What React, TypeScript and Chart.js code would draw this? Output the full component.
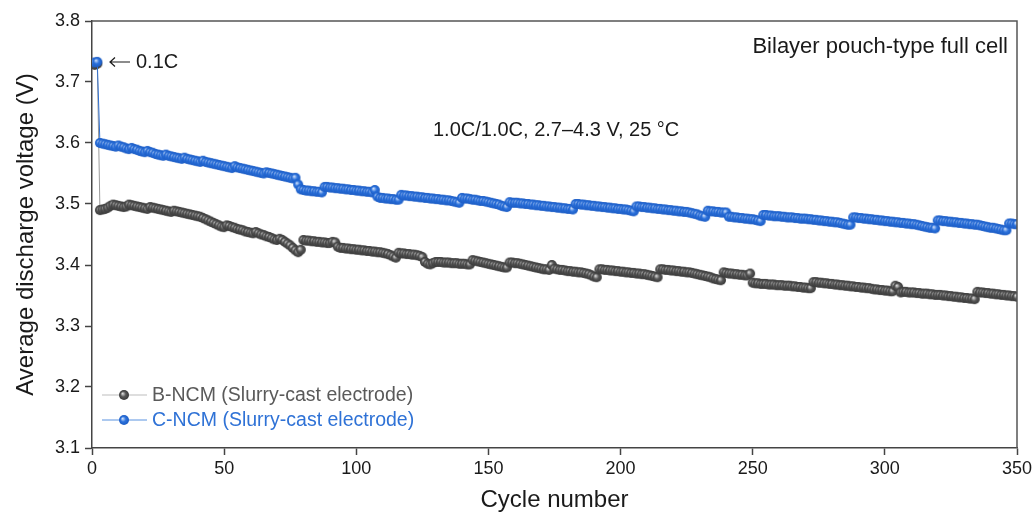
import React, { useEffect, useRef } from "react";
import { Chart, registerables } from "chart.js";

Chart.register(...registerables);

// Average discharge voltage (V) per cycle; cycles 1–2 at 0.1C, then 1.0C/1.0C
const bNcm: number[] = [
  3.728, 3.730, 3.490, 3.491, 3.492, 3.494, 3.497, 3.499, 3.498, 3.497,
  3.496, 3.495, 3.496, 3.499, 3.498, 3.497, 3.496, 3.495, 3.494, 3.493,
  3.492, 3.495, 3.494, 3.493, 3.492, 3.491, 3.490, 3.489, 3.488, 3.487,
  3.489, 3.488, 3.487, 3.486, 3.485, 3.484, 3.483, 3.482, 3.481, 3.480,
  3.479, 3.477, 3.475, 3.473, 3.471, 3.469, 3.467, 3.465, 3.463, 3.462,
  3.465, 3.464, 3.462, 3.461, 3.459, 3.458, 3.457, 3.455, 3.454, 3.453,
  3.452, 3.454, 3.452, 3.450, 3.449, 3.447, 3.446, 3.444, 3.442, 3.441,
  3.443, 3.441, 3.438, 3.435, 3.432, 3.428, 3.424, 3.421, 3.425, 3.441,
  3.440, 3.440, 3.439, 3.439, 3.438, 3.438, 3.437, 3.437, 3.436, 3.436,
  3.438, 3.437, 3.430, 3.428, 3.428, 3.427, 3.427, 3.426, 3.426, 3.425,
  3.425, 3.424, 3.424, 3.423, 3.423, 3.422, 3.422, 3.421, 3.421, 3.420,
  3.419, 3.418, 3.416, 3.414, 3.412, 3.420, 3.419, 3.419, 3.418, 3.418,
  3.417, 3.417, 3.416, 3.415, 3.413, 3.405, 3.402, 3.401, 3.403, 3.405,
  3.405, 3.405, 3.404, 3.404, 3.404, 3.403, 3.403, 3.403, 3.402, 3.402,
  3.402, 3.401, 3.401, 3.408, 3.407, 3.406, 3.405, 3.404, 3.403, 3.402,
  3.401, 3.400, 3.399, 3.398, 3.397, 3.396, 3.396, 3.404, 3.404, 3.403,
  3.403, 3.402, 3.401, 3.400, 3.399, 3.398, 3.397, 3.396, 3.395, 3.394,
  3.393, 3.393, 3.392, 3.400, 3.394, 3.393, 3.392, 3.392, 3.391, 3.390,
  3.390, 3.389, 3.389, 3.388, 3.388, 3.387, 3.386, 3.385, 3.383, 3.381,
  3.380, 3.393, 3.393, 3.392, 3.392, 3.391, 3.391, 3.390, 3.390, 3.389,
  3.389, 3.388, 3.388, 3.387, 3.387, 3.386, 3.386, 3.385, 3.385, 3.384,
  3.383, 3.382, 3.381, 3.380, 3.393, 3.393, 3.392, 3.392, 3.391, 3.391,
  3.390, 3.390, 3.389, 3.389, 3.388, 3.388, 3.387, 3.386, 3.385, 3.384,
  3.383, 3.382, 3.381, 3.380, 3.378, 3.377, 3.376, 3.375, 3.388, 3.387,
  3.386, 3.386, 3.385, 3.385, 3.384, 3.384, 3.383, 3.383, 3.386, 3.371,
  3.370, 3.370, 3.369, 3.369, 3.369, 3.368, 3.368, 3.368, 3.367, 3.367,
  3.367, 3.366, 3.366, 3.366, 3.365, 3.365, 3.364, 3.364, 3.363, 3.363,
  3.362, 3.362, 3.372, 3.372, 3.371, 3.371, 3.370, 3.370, 3.369, 3.369,
  3.368, 3.368, 3.367, 3.367, 3.366, 3.366, 3.365, 3.365, 3.364, 3.364,
  3.363, 3.363, 3.362, 3.362, 3.361, 3.360, 3.360, 3.359, 3.359, 3.358,
  3.358, 3.357, 3.357, 3.366, 3.364, 3.355, 3.356, 3.356, 3.355, 3.355,
  3.355, 3.354, 3.354, 3.353, 3.353, 3.353, 3.352, 3.352, 3.351, 3.351,
  3.351, 3.350, 3.350, 3.349, 3.349, 3.348, 3.348, 3.347, 3.347, 3.346,
  3.346, 3.345, 3.345, 3.344, 3.356, 3.355, 3.355, 3.354, 3.354, 3.353,
  3.353, 3.352, 3.352, 3.351, 3.351, 3.350, 3.350, 3.349, 3.349, 3.348,
];

const cNcm: number[] = [
  3.732, 3.733, 3.600, 3.599, 3.598, 3.597, 3.596, 3.595, 3.594, 3.596,
  3.594, 3.593, 3.591, 3.590, 3.592, 3.590, 3.589, 3.587, 3.586, 3.585,
  3.587, 3.585, 3.584, 3.582, 3.581, 3.580, 3.579, 3.581, 3.579, 3.578,
  3.577, 3.576, 3.575, 3.574, 3.576, 3.574, 3.573, 3.572, 3.571, 3.570,
  3.569, 3.571, 3.569, 3.568, 3.567, 3.566, 3.565, 3.564, 3.563, 3.562,
  3.561, 3.560, 3.559, 3.562, 3.560, 3.559, 3.558, 3.557, 3.556, 3.555,
  3.554, 3.553, 3.552, 3.551, 3.550, 3.552, 3.551, 3.550, 3.549, 3.548,
  3.547, 3.546, 3.545, 3.544, 3.543, 3.542, 3.543, 3.532, 3.524, 3.523,
  3.522, 3.522, 3.521, 3.521, 3.520, 3.520, 3.519, 3.528, 3.528, 3.527,
  3.527, 3.526, 3.526, 3.525, 3.525, 3.524, 3.524, 3.523, 3.523, 3.522,
  3.522, 3.521, 3.521, 3.520, 3.520, 3.519, 3.523, 3.512, 3.510, 3.510,
  3.509, 3.509, 3.508, 3.508, 3.507, 3.507, 3.515, 3.514, 3.514, 3.513,
  3.513, 3.512, 3.512, 3.511, 3.511, 3.510, 3.510, 3.509, 3.509, 3.508,
  3.508, 3.507, 3.507, 3.506, 3.506, 3.505, 3.504, 3.503, 3.502, 3.510,
  3.509, 3.509, 3.508, 3.507, 3.507, 3.506, 3.505, 3.505, 3.504, 3.503,
  3.502, 3.501, 3.500, 3.499, 3.497, 3.496, 3.495, 3.503, 3.502, 3.502,
  3.502, 3.501, 3.501, 3.500, 3.500, 3.499, 3.499, 3.498, 3.498, 3.497,
  3.497, 3.496, 3.496, 3.495, 3.495, 3.494, 3.494, 3.493, 3.493, 3.492,
  3.492, 3.491, 3.500, 3.500, 3.499, 3.499, 3.498, 3.498, 3.497, 3.497,
  3.496, 3.496, 3.495, 3.495, 3.494, 3.494, 3.493, 3.493, 3.492, 3.492,
  3.491, 3.491, 3.490, 3.489, 3.488, 3.496, 3.496, 3.495, 3.495, 3.494,
  3.494, 3.493, 3.493, 3.492, 3.492, 3.491, 3.491, 3.490, 3.490, 3.489,
  3.489, 3.488, 3.488, 3.487, 3.487, 3.486, 3.485, 3.484, 3.483, 3.481,
  3.480, 3.479, 3.489, 3.488, 3.488, 3.487, 3.487, 3.486, 3.486, 3.486,
  3.479, 3.479, 3.478, 3.478, 3.477, 3.477, 3.476, 3.476, 3.475, 3.475,
  3.474, 3.473, 3.472, 3.482, 3.482, 3.481, 3.481, 3.480, 3.480, 3.480,
  3.479, 3.479, 3.478, 3.478, 3.478, 3.477, 3.477, 3.476, 3.476, 3.476,
  3.475, 3.475, 3.474, 3.474, 3.473, 3.473, 3.472, 3.472, 3.471, 3.471,
  3.470, 3.470, 3.469, 3.468, 3.467, 3.466, 3.466, 3.478, 3.478, 3.477,
  3.477, 3.476, 3.476, 3.475, 3.475, 3.474, 3.474, 3.473, 3.473, 3.472,
  3.472, 3.471, 3.471, 3.470, 3.470, 3.469, 3.469, 3.468, 3.468, 3.467,
  3.467, 3.466, 3.465, 3.464, 3.463, 3.462, 3.461, 3.461, 3.460, 3.473,
  3.473, 3.472, 3.472, 3.471, 3.471, 3.470, 3.470, 3.469, 3.469, 3.468,
  3.468, 3.467, 3.467, 3.466, 3.466, 3.465, 3.464, 3.463, 3.462, 3.461,
  3.461, 3.460, 3.459, 3.458, 3.457, 3.457, 3.468, 3.468, 3.467, 3.467,
];

// cycle index for each value (1..N)
const cycles: number[] = bNcm.map((_, i) => i + 1);

const seriesNames: string[] = ["B-NCM (Slurry-cast electrode)", "C-NCM (Slurry-cast electrode)"];
const yTicks: number[] = [3.1, 3.2, 3.3, 3.4, 3.5, 3.6, 3.7, 3.8];
const xTicks: number[] = [0, 50, 100, 150, 200, 250, 300, 350];

const FONT = '"Liberation Sans", Arial, "Helvetica Neue", sans-serif';

// shaded sphere used as the point marker
function makeBall(r: number, light: string, mid: string, dark: string): HTMLCanvasElement {
  const size = Math.ceil(r * 2 + 2);
  const c = document.createElement("canvas");
  c.width = size;
  c.height = size;
  const g = c.getContext("2d")!;
  const cx = size / 2;
  const grad = g.createRadialGradient(cx - r * 0.3, cx - r * 0.3, r * 0.05, cx, cx, r);
  grad.addColorStop(0, light);
  grad.addColorStop(0.5, mid);
  grad.addColorStop(1, dark);
  g.fillStyle = grad;
  g.beginPath();
  g.arc(cx, cx, r, 0, Math.PI * 2);
  g.fill();
  return c;
}

export default function App() {
  const ref = useRef<HTMLCanvasElement | null>(null);

  useEffect(() => {
    document.body.style.margin = "0";
    const canvas = ref.current;
    if (!canvas) return;

    const grayBall = makeBall(5, "#dcdcdc", "#575757", "#383838");
    const blueBall = makeBall(5, "#cfe0fa", "#2c72dc", "#1c5cc4");

    const decor = {
      id: "decor",
      afterDraw(chart: any) {
        const { ctx, chartArea } = chart;
        const { left, right, top, bottom } = chartArea;
        ctx.save();
        // frame on top and right
        ctx.strokeStyle = "#555";
        ctx.lineWidth = 1.5;
        ctx.beginPath();
        ctx.moveTo(left, top);
        ctx.lineTo(right, top);
        ctx.lineTo(right, bottom);
        ctx.stroke();

        // arrow pointing at the 0.1C cycles
        ctx.strokeStyle = "#1a1a1a";
        ctx.lineWidth = 1.2;
        ctx.beginPath();
        ctx.moveTo(110, 62);
        ctx.lineTo(130, 62);
        ctx.moveTo(115, 57.5);
        ctx.lineTo(110, 62);
        ctx.lineTo(115, 66.5);
        ctx.stroke();

        ctx.fillStyle = "#1a1a1a";
        ctx.textBaseline = "middle";
        ctx.textAlign = "left";
        ctx.font = `20px ${FONT}`;
        ctx.fillText("0.1C", 136, 62);
        ctx.fillText("1.0C/1.0C, 2.7\u20134.3 V, 25 \u00B0C", 433, 130);
        ctx.textAlign = "right";
        ctx.font = `22px ${FONT}`;
        ctx.fillText("Bilayer pouch-type full cell", 1008, 47);

        // legend
        const rows = [
          { name: seriesNames[0], line: "#bdbdbd", text: "#5a5a5a", ball: grayBall, y: 395 },
          { name: seriesNames[1], line: "#5b93e0", text: "#2f72d6", ball: blueBall, y: 420 },
        ];
        ctx.textAlign = "left";
        ctx.font = `19.5px ${FONT}`;
        for (const r of rows) {
          ctx.strokeStyle = r.line;
          ctx.lineWidth = 1;
          ctx.beginPath();
          ctx.moveTo(102, r.y);
          ctx.lineTo(147, r.y);
          ctx.stroke();
          ctx.drawImage(r.ball, 124 - r.ball.width / 2, r.y - r.ball.height / 2);
          ctx.fillStyle = r.text;
          ctx.fillText(r.name, 152, r.y + 1);
        }

        // axis titles
        ctx.fillStyle = "#1a1a1a";
        ctx.font = `24px ${FONT}`;
        ctx.textAlign = "center";
        ctx.fillText("Cycle number", (left + right) / 2, 500);
        ctx.translate(26, (top + bottom) / 2);
        ctx.rotate(-Math.PI / 2);
        ctx.fillText("Average discharge voltage (V)", 0, 0);
        ctx.restore();
      },
    };

    const chart = new Chart(canvas, {
      type: "line",
      data: {
        datasets: [
          {
            label: seriesNames[0],
            data: cycles.map((c, i) => ({ x: c, y: bNcm[i] })),
            borderColor: "#9a9a9a",
            borderWidth: 1,
            pointStyle: grayBall as any,
            pointRadius: 5,
            order: 1,
          },
          {
            label: seriesNames[1],
            data: cycles.map((c, i) => ({ x: c, y: cNcm[i] })),
            borderColor: "#2f6fd0",
            borderWidth: 1,
            pointStyle: blueBall as any,
            pointRadius: 5,
            order: 0,
          },
        ],
      },
      options: {
        responsive: false,
        animation: false,
        devicePixelRatio: 1,
        layout: { padding: { top: 21, right: 19, left: 0, bottom: 0 } },
        plugins: { legend: { display: false }, tooltip: { enabled: false } },
        scales: {
          x: {
            type: "linear",
            min: 0,
            max: 350,
            afterFit: (s: any) => {
              s.height = 72;
            },
            afterBuildTicks: (s: any) => {
              s.ticks = xTicks.map((v) => ({ value: v }));
            },
            grid: { drawOnChartArea: false, drawTicks: true, tickLength: 7, tickColor: "#444", tickWidth: 1.5 },
            border: { color: "#444", width: 1.5 },
            ticks: { color: "#1a1a1a", font: { family: FONT, size: 18 }, padding: 3, maxRotation: 0 },
          },
          y: {
            type: "linear",
            min: 3.1,
            max: 3.8,
            afterFit: (s: any) => {
              s.width = 92;
            },
            afterBuildTicks: (s: any) => {
              s.ticks = yTicks.map((v) => ({ value: v }));
            },
            grid: { drawOnChartArea: false, drawTicks: true, tickLength: 7, tickColor: "#444", tickWidth: 1.5 },
            border: { color: "#444", width: 1.5 },
            ticks: {
              color: "#1a1a1a",
              font: { family: FONT, size: 18 },
              padding: 5,
              callback: (v: any) => Number(v).toFixed(1),
            },
          },
        },
      },
      plugins: [decor],
    });

    return () => chart.destroy();
  }, []);

  return (
    <div style={{ width: 1036, height: 520, position: "relative" }}>
      <canvas ref={ref} width={1036} height={520} style={{ display: "block" }} />
    </div>
  );
}
